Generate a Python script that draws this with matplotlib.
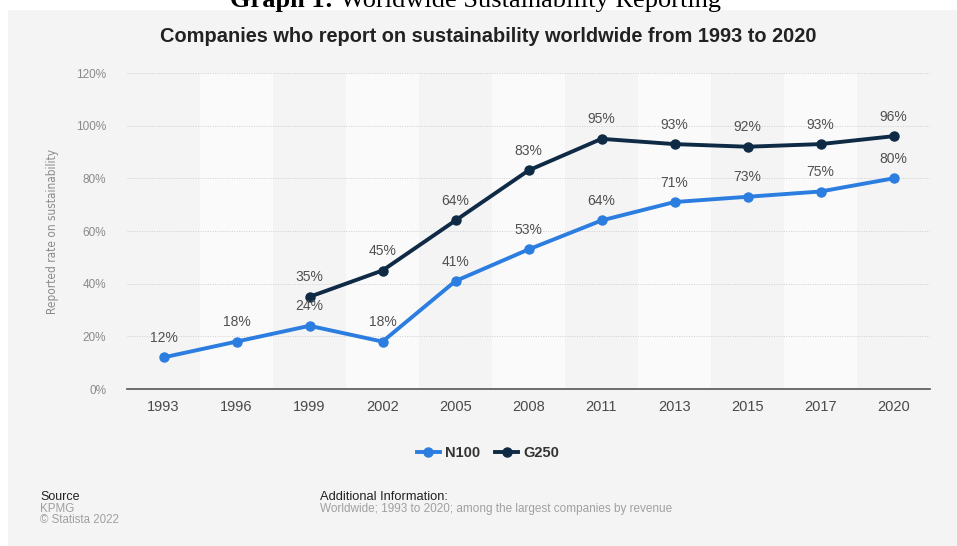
import numpy as np
import matplotlib.pyplot as plt
from matplotlib.patches import Rectangle

years = ['1993', '1996', '1999', '2002', '2005', '2008', '2011', '2013', '2015', '2017', '2020']
n100 = [12, 18, 24, 18, 41, 53, 64, 71, 73, 75, 80]
g250 = [np.nan, np.nan, 35, 45, 64, 83, 95, 93, 92, 93, 96]
yticks = [0, 20, 40, 60, 80, 100, 120]

blue = '#2c7de0'
navy = '#0e2a45'
bg = '#f4f4f4'
band = '#fafafa'

plt.rcParams['font.family'] = ['Liberation Sans', 'DejaVu Sans']

fig = plt.figure(figsize=(9.57, 5.46), dpi=100)
fig.patch.set_facecolor('white')
W, H = 957, 546

# grey panel
fig.patches.append(Rectangle((8 / W, 0), 1 - 8 / W, (H - 10) / H, transform=fig.transFigure,
                             facecolor=bg, edgecolor='none', zorder=-10))

# header above the panel, cut by the top edge as in the original page
fig.text(340 / W, (H - 7) / H, 'Graph 1: ', ha='right', va='baseline', fontsize=19,
         family='Liberation Serif', fontweight='bold', color='black')
fig.text(340 / W, (H - 7) / H, 'Worldwide Sustainability Reporting', ha='left', va='baseline',
         fontsize=19, family='Liberation Serif', color='black')

fig.text(488 / W, 1 - 37 / H, 'Companies who report on sustainability worldwide from 1993 to 2020',
         ha='center', va='center', fontsize=14.4, fontweight='bold', color='#222222')

ax = fig.add_axes([127 / W, 1 - 389 / H, 803 / W, 316 / H])
ax.set_facecolor(bg)
x = np.arange(len(years))
ax.set_xlim(-0.5, len(years) - 0.5)
ax.set_ylim(0, 120)

for i in x:
    if i % 2 == 1:
        ax.axvspan(i - 0.5, i + 0.5, color=band, zorder=0, lw=0)

for t in yticks[1:]:
    ax.axhline(t, color='#cfcfcf', lw=0.7, ls=(0, (1, 1.5)), zorder=1)

ax.plot(x, n100, color=blue, lw=2.8, marker='o', ms=6.5, zorder=3, label='N100')
ax.plot(x, g250, color=navy, lw=2.8, marker='o', ms=6.5, zorder=3, label='G250')

for i, v in enumerate(n100):
    ax.annotate(f'{v}%', (i, v), xytext=(0, 9), textcoords='offset points',
                ha='center', va='bottom', fontsize=10, color='#505050', zorder=4)
for i, v in enumerate(g250):
    if not np.isnan(v):
        ax.annotate(f'{int(v)}%', (i, v), xytext=(0, 9), textcoords='offset points',
                    ha='center', va='bottom', fontsize=10, color='#505050', zorder=4)

ax.set_xticks(x)
ax.set_xticklabels(years, fontsize=10.5, color='#4a4a4a')
ax.set_yticks(yticks)
ax.set_yticklabels([f'{t}%' for t in yticks], fontsize=8.5, color='#8a8a8a')
ax.tick_params(axis='both', length=0)
ax.tick_params(axis='x', pad=8)
ax.tick_params(axis='y', pad=15)
for s in ['top', 'right', 'left']:
    ax.spines[s].set_visible(False)
ax.spines['bottom'].set_color('#555555')
ax.spines['bottom'].set_linewidth(1.2)

ax.set_ylabel('Reported rate on sustainability', fontsize=8.5, color='#8a8a8a', labelpad=12,
              family='DejaVu Sans', fontstretch='condensed')

leg = fig.legend(loc='center', bbox_to_anchor=(488 / W, 1 - 453 / H), ncol=2, frameon=False,
                 fontsize=10.5, handlelength=1.6, columnspacing=1.0, handletextpad=0.35)
for t in leg.get_texts():
    t.set_fontweight('bold')
    t.set_color('#333333')

fig.text(40 / W, 1 - 497 / H, 'Source', fontsize=9, color='#222222', va='center')
fig.text(40 / W, 1 - 509 / H, 'KPMG', fontsize=8.3, color='#a0a0a0', va='center')
fig.text(40 / W, 1 - 520 / H, '\u00a9 Statista 2022', fontsize=8.3, color='#a0a0a0', va='center')
fig.text(320 / W, 1 - 497 / H, 'Additional Information:', fontsize=9.3, color='#222222', va='center')
fig.text(320 / W, 1 - 509 / H, 'Worldwide; 1993 to 2020; among the largest companies by revenue',
         fontsize=8.5, color='#a0a0a0', va='center')

fig.savefig('out.png', dpi=100)
